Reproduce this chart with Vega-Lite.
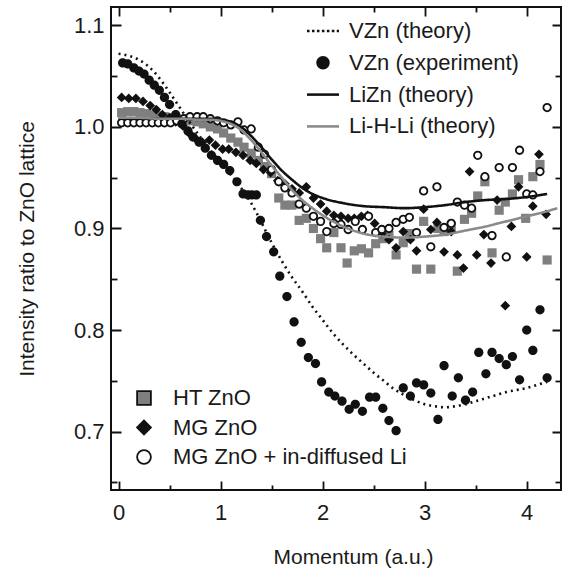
{
  "$schema": "https://vega.github.io/schema/vega-lite/v6.json",
  "width": 450,
  "height": 483,
  "autosize": {"type": "none"},
  "padding": {"left": 111, "top": 7, "right": 2, "bottom": 79},
  "background": "white",
  "config": {
    "font": "Liberation Sans",
    "view": {"stroke": "#111", "strokeWidth": 2},
    "axis": {
      "grid": false, "domain": false,
      "labelFont": "Liberation Sans", "labelFontSize": 22, "labelColor": "#1a1a1a",
      "titleFont": "Liberation Sans", "titleFontSize": 21, "titleFontWeight": "normal", "titleColor": "#1a1a1a",
      "tickColor": "#111", "tickWidth": 1.8, "labelOverlap": false, "labelFlush": false
    },
    "legend": {"labelFont": "Liberation Sans", "labelFontSize": 22, "labelColor": "#1a1a1a", "padding": 0, "labelLimit": 320}
  },
  "datasets": {
    "theory": [
      {"x": 0.0, "y": 1.072, "curve": "VZn (theory)"},
      {"x": 0.1, "y": 1.070, "curve": "VZn (theory)"},
      {"x": 0.2, "y": 1.066, "curve": "VZn (theory)"},
      {"x": 0.3, "y": 1.059, "curve": "VZn (theory)"},
      {"x": 0.4, "y": 1.048, "curve": "VZn (theory)"},
      {"x": 0.5, "y": 1.034, "curve": "VZn (theory)"},
      {"x": 0.6, "y": 1.019, "curve": "VZn (theory)"},
      {"x": 0.7, "y": 1.004, "curve": "VZn (theory)"},
      {"x": 0.8, "y": 0.990, "curve": "VZn (theory)"},
      {"x": 0.9, "y": 0.977, "curve": "VZn (theory)"},
      {"x": 1.0, "y": 0.965, "curve": "VZn (theory)"},
      {"x": 1.1, "y": 0.953, "curve": "VZn (theory)"},
      {"x": 1.2, "y": 0.940, "curve": "VZn (theory)"},
      {"x": 1.3, "y": 0.925, "curve": "VZn (theory)"},
      {"x": 1.4, "y": 0.906, "curve": "VZn (theory)"},
      {"x": 1.5, "y": 0.886, "curve": "VZn (theory)"},
      {"x": 1.6, "y": 0.868, "curve": "VZn (theory)"},
      {"x": 1.7, "y": 0.852, "curve": "VZn (theory)"},
      {"x": 1.8, "y": 0.838, "curve": "VZn (theory)"},
      {"x": 1.9, "y": 0.823, "curve": "VZn (theory)"},
      {"x": 2.0, "y": 0.810, "curve": "VZn (theory)"},
      {"x": 2.1, "y": 0.797, "curve": "VZn (theory)"},
      {"x": 2.2, "y": 0.786, "curve": "VZn (theory)"},
      {"x": 2.3, "y": 0.776, "curve": "VZn (theory)"},
      {"x": 2.4, "y": 0.767, "curve": "VZn (theory)"},
      {"x": 2.5, "y": 0.758, "curve": "VZn (theory)"},
      {"x": 2.6, "y": 0.750, "curve": "VZn (theory)"},
      {"x": 2.7, "y": 0.742, "curve": "VZn (theory)"},
      {"x": 2.8, "y": 0.736, "curve": "VZn (theory)"},
      {"x": 2.9, "y": 0.731, "curve": "VZn (theory)"},
      {"x": 3.0, "y": 0.727, "curve": "VZn (theory)"},
      {"x": 3.1, "y": 0.725, "curve": "VZn (theory)"},
      {"x": 3.2, "y": 0.724, "curve": "VZn (theory)"},
      {"x": 3.3, "y": 0.725, "curve": "VZn (theory)"},
      {"x": 3.4, "y": 0.727, "curve": "VZn (theory)"},
      {"x": 3.5, "y": 0.730, "curve": "VZn (theory)"},
      {"x": 3.6, "y": 0.733, "curve": "VZn (theory)"},
      {"x": 3.7, "y": 0.736, "curve": "VZn (theory)"},
      {"x": 3.8, "y": 0.739, "curve": "VZn (theory)"},
      {"x": 3.9, "y": 0.741, "curve": "VZn (theory)"},
      {"x": 4.0, "y": 0.743, "curve": "VZn (theory)"},
      {"x": 4.1, "y": 0.746, "curve": "VZn (theory)"},
      {"x": 4.2, "y": 0.749, "curve": "VZn (theory)"},
      {"x": 0.0, "y": 1.008, "curve": "LiZn (theory)"},
      {"x": 0.2, "y": 1.008, "curve": "LiZn (theory)"},
      {"x": 0.4, "y": 1.008, "curve": "LiZn (theory)"},
      {"x": 0.6, "y": 1.008, "curve": "LiZn (theory)"},
      {"x": 0.8, "y": 1.008, "curve": "LiZn (theory)"},
      {"x": 0.9, "y": 1.008, "curve": "LiZn (theory)"},
      {"x": 1.0, "y": 1.007, "curve": "LiZn (theory)"},
      {"x": 1.1, "y": 1.005, "curve": "LiZn (theory)"},
      {"x": 1.2, "y": 1.000, "curve": "LiZn (theory)"},
      {"x": 1.3, "y": 0.991, "curve": "LiZn (theory)"},
      {"x": 1.4, "y": 0.980, "curve": "LiZn (theory)"},
      {"x": 1.5, "y": 0.968, "curve": "LiZn (theory)"},
      {"x": 1.6, "y": 0.957, "curve": "LiZn (theory)"},
      {"x": 1.7, "y": 0.948, "curve": "LiZn (theory)"},
      {"x": 1.8, "y": 0.940, "curve": "LiZn (theory)"},
      {"x": 1.9, "y": 0.934, "curve": "LiZn (theory)"},
      {"x": 2.0, "y": 0.930, "curve": "LiZn (theory)"},
      {"x": 2.2, "y": 0.925, "curve": "LiZn (theory)"},
      {"x": 2.4, "y": 0.922, "curve": "LiZn (theory)"},
      {"x": 2.6, "y": 0.921, "curve": "LiZn (theory)"},
      {"x": 2.8, "y": 0.920, "curve": "LiZn (theory)"},
      {"x": 3.0, "y": 0.921, "curve": "LiZn (theory)"},
      {"x": 3.2, "y": 0.923, "curve": "LiZn (theory)"},
      {"x": 3.4, "y": 0.926, "curve": "LiZn (theory)"},
      {"x": 3.6, "y": 0.928, "curve": "LiZn (theory)"},
      {"x": 3.8, "y": 0.929, "curve": "LiZn (theory)"},
      {"x": 4.0, "y": 0.931, "curve": "LiZn (theory)"},
      {"x": 4.2, "y": 0.934, "curve": "LiZn (theory)"},
      {"x": 0.0, "y": 1.009, "curve": "Li-H-Li (theory)"},
      {"x": 0.2, "y": 1.009, "curve": "Li-H-Li (theory)"},
      {"x": 0.4, "y": 1.008, "curve": "Li-H-Li (theory)"},
      {"x": 0.6, "y": 1.008, "curve": "Li-H-Li (theory)"},
      {"x": 0.8, "y": 1.007, "curve": "Li-H-Li (theory)"},
      {"x": 0.9, "y": 1.007, "curve": "Li-H-Li (theory)"},
      {"x": 1.0, "y": 1.006, "curve": "Li-H-Li (theory)"},
      {"x": 1.1, "y": 1.003, "curve": "Li-H-Li (theory)"},
      {"x": 1.2, "y": 0.997, "curve": "Li-H-Li (theory)"},
      {"x": 1.3, "y": 0.987, "curve": "Li-H-Li (theory)"},
      {"x": 1.4, "y": 0.975, "curve": "Li-H-Li (theory)"},
      {"x": 1.5, "y": 0.962, "curve": "Li-H-Li (theory)"},
      {"x": 1.6, "y": 0.950, "curve": "Li-H-Li (theory)"},
      {"x": 1.7, "y": 0.938, "curve": "Li-H-Li (theory)"},
      {"x": 1.8, "y": 0.928, "curve": "Li-H-Li (theory)"},
      {"x": 1.9, "y": 0.920, "curve": "Li-H-Li (theory)"},
      {"x": 2.0, "y": 0.913, "curve": "Li-H-Li (theory)"},
      {"x": 2.1, "y": 0.907, "curve": "Li-H-Li (theory)"},
      {"x": 2.2, "y": 0.902, "curve": "Li-H-Li (theory)"},
      {"x": 2.3, "y": 0.898, "curve": "Li-H-Li (theory)"},
      {"x": 2.4, "y": 0.895, "curve": "Li-H-Li (theory)"},
      {"x": 2.5, "y": 0.893, "curve": "Li-H-Li (theory)"},
      {"x": 2.6, "y": 0.892, "curve": "Li-H-Li (theory)"},
      {"x": 2.8, "y": 0.891, "curve": "Li-H-Li (theory)"},
      {"x": 3.0, "y": 0.892, "curve": "Li-H-Li (theory)"},
      {"x": 3.2, "y": 0.894, "curve": "Li-H-Li (theory)"},
      {"x": 3.4, "y": 0.898, "curve": "Li-H-Li (theory)"},
      {"x": 3.6, "y": 0.902, "curve": "Li-H-Li (theory)"},
      {"x": 3.8, "y": 0.907, "curve": "Li-H-Li (theory)"},
      {"x": 4.0, "y": 0.912, "curve": "Li-H-Li (theory)"},
      {"x": 4.2, "y": 0.917, "curve": "Li-H-Li (theory)"},
      {"x": 4.3, "y": 0.920, "curve": "Li-H-Li (theory)"}
    ],
    "experiment": [
      {"x": 0.04, "y": 1.063, "series": "VZn (experiment)"}, {"x": 0.09, "y": 1.062, "series": "VZn (experiment)"},
      {"x": 0.15, "y": 1.058, "series": "VZn (experiment)"}, {"x": 0.20, "y": 1.055, "series": "VZn (experiment)"},
      {"x": 0.25, "y": 1.052, "series": "VZn (experiment)"}, {"x": 0.30, "y": 1.046, "series": "VZn (experiment)"},
      {"x": 0.35, "y": 1.041, "series": "VZn (experiment)"}, {"x": 0.40, "y": 1.036, "series": "VZn (experiment)"},
      {"x": 0.45, "y": 1.029, "series": "VZn (experiment)"}, {"x": 0.50, "y": 1.022, "series": "VZn (experiment)"},
      {"x": 0.56, "y": 1.012, "series": "VZn (experiment)"}, {"x": 0.62, "y": 1.003, "series": "VZn (experiment)"},
      {"x": 0.68, "y": 0.996, "series": "VZn (experiment)"}, {"x": 0.73, "y": 0.990, "series": "VZn (experiment)"},
      {"x": 0.79, "y": 0.985, "series": "VZn (experiment)"}, {"x": 0.85, "y": 0.979, "series": "VZn (experiment)"},
      {"x": 0.91, "y": 0.972, "series": "VZn (experiment)"}, {"x": 0.97, "y": 0.967, "series": "VZn (experiment)"},
      {"x": 1.03, "y": 0.963, "series": "VZn (experiment)"}, {"x": 1.09, "y": 0.957, "series": "VZn (experiment)"},
      {"x": 1.16, "y": 0.946, "series": "VZn (experiment)"}, {"x": 1.22, "y": 0.934, "series": "VZn (experiment)"},
      {"x": 1.27, "y": 0.933, "series": "VZn (experiment)"}, {"x": 1.31, "y": 0.933, "series": "VZn (experiment)"},
      {"x": 1.35, "y": 0.933, "series": "VZn (experiment)"}, {"x": 1.39, "y": 0.908, "series": "VZn (experiment)"},
      {"x": 1.45, "y": 0.892, "series": "VZn (experiment)"}, {"x": 1.52, "y": 0.877, "series": "VZn (experiment)"},
      {"x": 1.58, "y": 0.853, "series": "VZn (experiment)"}, {"x": 1.65, "y": 0.833, "series": "VZn (experiment)"},
      {"x": 1.72, "y": 0.808, "series": "VZn (experiment)"}, {"x": 1.79, "y": 0.788, "series": "VZn (experiment)"},
      {"x": 1.86, "y": 0.773, "series": "VZn (experiment)"}, {"x": 1.93, "y": 0.767, "series": "VZn (experiment)"},
      {"x": 1.99, "y": 0.749, "series": "VZn (experiment)"}, {"x": 2.06, "y": 0.739, "series": "VZn (experiment)"},
      {"x": 2.12, "y": 0.735, "series": "VZn (experiment)"}, {"x": 2.19, "y": 0.730, "series": "VZn (experiment)"},
      {"x": 2.26, "y": 0.722, "series": "VZn (experiment)"}, {"x": 2.32, "y": 0.727, "series": "VZn (experiment)"},
      {"x": 2.39, "y": 0.720, "series": "VZn (experiment)"}, {"x": 2.46, "y": 0.734, "series": "VZn (experiment)"},
      {"x": 2.52, "y": 0.734, "series": "VZn (experiment)"}, {"x": 2.59, "y": 0.723, "series": "VZn (experiment)"},
      {"x": 2.65, "y": 0.711, "series": "VZn (experiment)"}, {"x": 2.72, "y": 0.701, "series": "VZn (experiment)"},
      {"x": 2.79, "y": 0.743, "series": "VZn (experiment)"}, {"x": 2.86, "y": 0.735, "series": "VZn (experiment)"},
      {"x": 2.92, "y": 0.748, "series": "VZn (experiment)"}, {"x": 2.99, "y": 0.746, "series": "VZn (experiment)"},
      {"x": 3.06, "y": 0.738, "series": "VZn (experiment)"}, {"x": 3.13, "y": 0.712, "series": "VZn (experiment)"},
      {"x": 3.19, "y": 0.765, "series": "VZn (experiment)"}, {"x": 3.27, "y": 0.735, "series": "VZn (experiment)"},
      {"x": 3.33, "y": 0.753, "series": "VZn (experiment)"}, {"x": 3.40, "y": 0.731, "series": "VZn (experiment)"},
      {"x": 3.47, "y": 0.739, "series": "VZn (experiment)"}, {"x": 3.53, "y": 0.778, "series": "VZn (experiment)"},
      {"x": 3.60, "y": 0.757, "series": "VZn (experiment)"}, {"x": 3.66, "y": 0.778, "series": "VZn (experiment)"},
      {"x": 3.73, "y": 0.772, "series": "VZn (experiment)"}, {"x": 3.80, "y": 0.766, "series": "VZn (experiment)"},
      {"x": 3.86, "y": 0.774, "series": "VZn (experiment)"}, {"x": 3.93, "y": 0.751, "series": "VZn (experiment)"},
      {"x": 4.00, "y": 0.800, "series": "VZn (experiment)"}, {"x": 4.06, "y": 0.780, "series": "VZn (experiment)"},
      {"x": 4.13, "y": 0.820, "series": "VZn (experiment)"}, {"x": 4.20, "y": 0.753, "series": "VZn (experiment)"}
    ],
    "samples": [
      {"x": 0.03, "y": 1.014, "sample": "HT ZnO"}, {"x": 0.09, "y": 1.015, "sample": "HT ZnO"},
      {"x": 0.15, "y": 1.015, "sample": "HT ZnO"}, {"x": 0.21, "y": 1.014, "sample": "HT ZnO"},
      {"x": 0.27, "y": 1.013, "sample": "HT ZnO"}, {"x": 0.33, "y": 1.012, "sample": "HT ZnO"},
      {"x": 0.39, "y": 1.011, "sample": "HT ZnO"}, {"x": 0.45, "y": 1.010, "sample": "HT ZnO"},
      {"x": 0.51, "y": 1.009, "sample": "HT ZnO"}, {"x": 0.57, "y": 1.008, "sample": "HT ZnO"},
      {"x": 0.64, "y": 1.007, "sample": "HT ZnO"}, {"x": 0.70, "y": 1.006, "sample": "HT ZnO"},
      {"x": 0.77, "y": 1.005, "sample": "HT ZnO"}, {"x": 0.83, "y": 1.003, "sample": "HT ZnO"},
      {"x": 0.90, "y": 1.000, "sample": "HT ZnO"}, {"x": 0.97, "y": 0.998, "sample": "HT ZnO"},
      {"x": 1.03, "y": 0.994, "sample": "HT ZnO"}, {"x": 1.10, "y": 0.989, "sample": "HT ZnO"},
      {"x": 1.17, "y": 0.985, "sample": "HT ZnO"}, {"x": 1.23, "y": 0.980, "sample": "HT ZnO"},
      {"x": 1.30, "y": 0.974, "sample": "HT ZnO"}, {"x": 1.37, "y": 0.967, "sample": "HT ZnO"},
      {"x": 1.43, "y": 0.961, "sample": "HT ZnO"}, {"x": 1.50, "y": 0.954, "sample": "HT ZnO"},
      {"x": 1.57, "y": 0.930, "sample": "HT ZnO"}, {"x": 1.63, "y": 0.923, "sample": "HT ZnO"},
      {"x": 1.70, "y": 0.923, "sample": "HT ZnO"}, {"x": 1.77, "y": 0.908, "sample": "HT ZnO"},
      {"x": 1.84, "y": 0.910, "sample": "HT ZnO"}, {"x": 1.91, "y": 0.900, "sample": "HT ZnO"},
      {"x": 1.98, "y": 0.890, "sample": "HT ZnO"}, {"x": 2.04, "y": 0.881, "sample": "HT ZnO"},
      {"x": 2.11, "y": 0.896, "sample": "HT ZnO"}, {"x": 2.18, "y": 0.881, "sample": "HT ZnO"},
      {"x": 2.24, "y": 0.866, "sample": "HT ZnO"}, {"x": 2.31, "y": 0.878, "sample": "HT ZnO"},
      {"x": 2.38, "y": 0.880, "sample": "HT ZnO"}, {"x": 2.45, "y": 0.876, "sample": "HT ZnO"},
      {"x": 2.52, "y": 0.885, "sample": "HT ZnO"}, {"x": 2.59, "y": 0.890, "sample": "HT ZnO"},
      {"x": 2.65, "y": 0.893, "sample": "HT ZnO"}, {"x": 2.72, "y": 0.874, "sample": "HT ZnO"},
      {"x": 2.79, "y": 0.886, "sample": "HT ZnO"}, {"x": 2.85, "y": 0.895, "sample": "HT ZnO"},
      {"x": 2.92, "y": 0.860, "sample": "HT ZnO"}, {"x": 2.99, "y": 0.907, "sample": "HT ZnO"},
      {"x": 3.06, "y": 0.860, "sample": "HT ZnO"}, {"x": 3.13, "y": 0.900, "sample": "HT ZnO"},
      {"x": 3.19, "y": 0.897, "sample": "HT ZnO"}, {"x": 3.26, "y": 0.902, "sample": "HT ZnO"},
      {"x": 3.32, "y": 0.858, "sample": "HT ZnO"}, {"x": 3.39, "y": 0.909, "sample": "HT ZnO"},
      {"x": 3.46, "y": 0.915, "sample": "HT ZnO"}, {"x": 3.52, "y": 0.932, "sample": "HT ZnO"},
      {"x": 3.59, "y": 0.946, "sample": "HT ZnO"}, {"x": 3.66, "y": 0.876, "sample": "HT ZnO"},
      {"x": 3.73, "y": 0.918, "sample": "HT ZnO"}, {"x": 3.79, "y": 0.926, "sample": "HT ZnO"},
      {"x": 3.86, "y": 0.934, "sample": "HT ZnO"}, {"x": 3.92, "y": 0.948, "sample": "HT ZnO"},
      {"x": 3.99, "y": 0.910, "sample": "HT ZnO"}, {"x": 4.06, "y": 0.951, "sample": "HT ZnO"},
      {"x": 4.13, "y": 0.963, "sample": "HT ZnO"}, {"x": 4.20, "y": 0.869, "sample": "HT ZnO"},
      {"x": 0.03, "y": 1.029, "sample": "MG ZnO"}, {"x": 0.10, "y": 1.028, "sample": "MG ZnO"},
      {"x": 0.17, "y": 1.028, "sample": "MG ZnO"}, {"x": 0.24, "y": 1.025, "sample": "MG ZnO"},
      {"x": 0.31, "y": 1.021, "sample": "MG ZnO"}, {"x": 0.37, "y": 1.017, "sample": "MG ZnO"},
      {"x": 0.43, "y": 1.012, "sample": "MG ZnO"}, {"x": 0.50, "y": 1.009, "sample": "MG ZnO"},
      {"x": 0.56, "y": 1.005, "sample": "MG ZnO"}, {"x": 0.63, "y": 1.001, "sample": "MG ZnO"},
      {"x": 0.69, "y": 0.994, "sample": "MG ZnO"}, {"x": 0.76, "y": 0.988, "sample": "MG ZnO"},
      {"x": 0.82, "y": 0.985, "sample": "MG ZnO"}, {"x": 0.89, "y": 0.987, "sample": "MG ZnO"},
      {"x": 0.95, "y": 0.982, "sample": "MG ZnO"}, {"x": 1.02, "y": 0.978, "sample": "MG ZnO"},
      {"x": 1.08, "y": 0.978, "sample": "MG ZnO"}, {"x": 1.15, "y": 0.975, "sample": "MG ZnO"},
      {"x": 1.22, "y": 0.972, "sample": "MG ZnO"}, {"x": 1.29, "y": 0.967, "sample": "MG ZnO"},
      {"x": 1.35, "y": 0.964, "sample": "MG ZnO"}, {"x": 1.42, "y": 0.958, "sample": "MG ZnO"},
      {"x": 1.49, "y": 0.955, "sample": "MG ZnO"}, {"x": 1.56, "y": 0.947, "sample": "MG ZnO"},
      {"x": 1.63, "y": 0.944, "sample": "MG ZnO"}, {"x": 1.70, "y": 0.939, "sample": "MG ZnO"},
      {"x": 1.77, "y": 0.935, "sample": "MG ZnO"}, {"x": 1.84, "y": 0.941, "sample": "MG ZnO"},
      {"x": 1.91, "y": 0.930, "sample": "MG ZnO"}, {"x": 1.98, "y": 0.924, "sample": "MG ZnO"},
      {"x": 2.04, "y": 0.917, "sample": "MG ZnO"}, {"x": 2.11, "y": 0.913, "sample": "MG ZnO"},
      {"x": 2.18, "y": 0.912, "sample": "MG ZnO"}, {"x": 2.25, "y": 0.910, "sample": "MG ZnO"},
      {"x": 2.31, "y": 0.910, "sample": "MG ZnO"}, {"x": 2.38, "y": 0.912, "sample": "MG ZnO"},
      {"x": 2.44, "y": 0.913, "sample": "MG ZnO"}, {"x": 2.51, "y": 0.905, "sample": "MG ZnO"},
      {"x": 2.58, "y": 0.895, "sample": "MG ZnO"}, {"x": 2.65, "y": 0.889, "sample": "MG ZnO"},
      {"x": 2.72, "y": 0.881, "sample": "MG ZnO"}, {"x": 2.79, "y": 0.897, "sample": "MG ZnO"},
      {"x": 2.86, "y": 0.889, "sample": "MG ZnO"}, {"x": 2.92, "y": 0.878, "sample": "MG ZnO"},
      {"x": 2.99, "y": 0.919, "sample": "MG ZnO"}, {"x": 3.06, "y": 0.899, "sample": "MG ZnO"},
      {"x": 3.12, "y": 0.906, "sample": "MG ZnO"}, {"x": 3.19, "y": 0.877, "sample": "MG ZnO"},
      {"x": 3.26, "y": 0.897, "sample": "MG ZnO"}, {"x": 3.32, "y": 0.874, "sample": "MG ZnO"},
      {"x": 3.38, "y": 0.861, "sample": "MG ZnO"}, {"x": 3.44, "y": 0.956, "sample": "MG ZnO"},
      {"x": 3.51, "y": 0.874, "sample": "MG ZnO"}, {"x": 3.58, "y": 0.894, "sample": "MG ZnO"},
      {"x": 3.65, "y": 0.866, "sample": "MG ZnO"}, {"x": 3.71, "y": 0.928, "sample": "MG ZnO"},
      {"x": 3.79, "y": 0.824, "sample": "MG ZnO"}, {"x": 3.85, "y": 0.902, "sample": "MG ZnO"},
      {"x": 3.92, "y": 0.941, "sample": "MG ZnO"}, {"x": 4.00, "y": 0.872, "sample": "MG ZnO"},
      {"x": 4.06, "y": 0.922, "sample": "MG ZnO"}, {"x": 4.12, "y": 0.973, "sample": "MG ZnO"},
      {"x": 4.19, "y": 0.914, "sample": "MG ZnO"},
      {"x": 0.03, "y": 1.004, "sample": "MG ZnO + in-diffused Li"}, {"x": 0.09, "y": 1.004, "sample": "MG ZnO + in-diffused Li"},
      {"x": 0.15, "y": 1.004, "sample": "MG ZnO + in-diffused Li"}, {"x": 0.21, "y": 1.004, "sample": "MG ZnO + in-diffused Li"},
      {"x": 0.27, "y": 1.004, "sample": "MG ZnO + in-diffused Li"}, {"x": 0.33, "y": 1.004, "sample": "MG ZnO + in-diffused Li"},
      {"x": 0.39, "y": 1.004, "sample": "MG ZnO + in-diffused Li"}, {"x": 0.45, "y": 1.004, "sample": "MG ZnO + in-diffused Li"},
      {"x": 0.51, "y": 1.004, "sample": "MG ZnO + in-diffused Li"}, {"x": 0.57, "y": 1.006, "sample": "MG ZnO + in-diffused Li"},
      {"x": 0.64, "y": 1.008, "sample": "MG ZnO + in-diffused Li"}, {"x": 0.70, "y": 1.010, "sample": "MG ZnO + in-diffused Li"},
      {"x": 0.77, "y": 1.010, "sample": "MG ZnO + in-diffused Li"}, {"x": 0.83, "y": 1.010, "sample": "MG ZnO + in-diffused Li"},
      {"x": 0.90, "y": 1.008, "sample": "MG ZnO + in-diffused Li"}, {"x": 0.97, "y": 1.006, "sample": "MG ZnO + in-diffused Li"},
      {"x": 1.03, "y": 1.004, "sample": "MG ZnO + in-diffused Li"}, {"x": 1.10, "y": 1.002, "sample": "MG ZnO + in-diffused Li"},
      {"x": 1.17, "y": 1.005, "sample": "MG ZnO + in-diffused Li"}, {"x": 1.23, "y": 0.997, "sample": "MG ZnO + in-diffused Li"},
      {"x": 1.30, "y": 0.998, "sample": "MG ZnO + in-diffused Li"}, {"x": 1.37, "y": 0.980, "sample": "MG ZnO + in-diffused Li"},
      {"x": 1.43, "y": 0.973, "sample": "MG ZnO + in-diffused Li"}, {"x": 1.50, "y": 0.958, "sample": "MG ZnO + in-diffused Li"},
      {"x": 1.57, "y": 0.946, "sample": "MG ZnO + in-diffused Li"}, {"x": 1.63, "y": 0.940, "sample": "MG ZnO + in-diffused Li"},
      {"x": 1.70, "y": 0.935, "sample": "MG ZnO + in-diffused Li"}, {"x": 1.77, "y": 0.924, "sample": "MG ZnO + in-diffused Li"},
      {"x": 1.84, "y": 0.920, "sample": "MG ZnO + in-diffused Li"}, {"x": 1.91, "y": 0.912, "sample": "MG ZnO + in-diffused Li"},
      {"x": 1.98, "y": 0.907, "sample": "MG ZnO + in-diffused Li"}, {"x": 2.04, "y": 0.897, "sample": "MG ZnO + in-diffused Li"},
      {"x": 2.11, "y": 0.905, "sample": "MG ZnO + in-diffused Li"}, {"x": 2.18, "y": 0.904, "sample": "MG ZnO + in-diffused Li"},
      {"x": 2.25, "y": 0.899, "sample": "MG ZnO + in-diffused Li"}, {"x": 2.32, "y": 0.907, "sample": "MG ZnO + in-diffused Li"},
      {"x": 2.39, "y": 0.899, "sample": "MG ZnO + in-diffused Li"}, {"x": 2.45, "y": 0.912, "sample": "MG ZnO + in-diffused Li"},
      {"x": 2.52, "y": 0.896, "sample": "MG ZnO + in-diffused Li"}, {"x": 2.58, "y": 0.899, "sample": "MG ZnO + in-diffused Li"},
      {"x": 2.65, "y": 0.900, "sample": "MG ZnO + in-diffused Li"}, {"x": 2.72, "y": 0.906, "sample": "MG ZnO + in-diffused Li"},
      {"x": 2.79, "y": 0.909, "sample": "MG ZnO + in-diffused Li"}, {"x": 2.85, "y": 0.911, "sample": "MG ZnO + in-diffused Li"},
      {"x": 2.92, "y": 0.896, "sample": "MG ZnO + in-diffused Li"}, {"x": 2.99, "y": 0.937, "sample": "MG ZnO + in-diffused Li"},
      {"x": 3.06, "y": 0.882, "sample": "MG ZnO + in-diffused Li"}, {"x": 3.12, "y": 0.941, "sample": "MG ZnO + in-diffused Li"},
      {"x": 3.19, "y": 0.901, "sample": "MG ZnO + in-diffused Li"}, {"x": 3.26, "y": 0.905, "sample": "MG ZnO + in-diffused Li"},
      {"x": 3.32, "y": 0.926, "sample": "MG ZnO + in-diffused Li"}, {"x": 3.39, "y": 0.923, "sample": "MG ZnO + in-diffused Li"},
      {"x": 3.46, "y": 0.920, "sample": "MG ZnO + in-diffused Li"}, {"x": 3.52, "y": 0.972, "sample": "MG ZnO + in-diffused Li"},
      {"x": 3.59, "y": 0.951, "sample": "MG ZnO + in-diffused Li"}, {"x": 3.66, "y": 0.893, "sample": "MG ZnO + in-diffused Li"},
      {"x": 3.73, "y": 0.960, "sample": "MG ZnO + in-diffused Li"}, {"x": 3.80, "y": 0.872, "sample": "MG ZnO + in-diffused Li"},
      {"x": 3.86, "y": 0.960, "sample": "MG ZnO + in-diffused Li"}, {"x": 3.93, "y": 0.977, "sample": "MG ZnO + in-diffused Li"},
      {"x": 4.00, "y": 0.934, "sample": "MG ZnO + in-diffused Li"}, {"x": 4.06, "y": 0.933, "sample": "MG ZnO + in-diffused Li"},
      {"x": 4.13, "y": 0.956, "sample": "MG ZnO + in-diffused Li"}, {"x": 4.20, "y": 1.019, "sample": "MG ZnO + in-diffused Li"}
    ]
  },
  "layer": [
    {
      "data": {"name": "samples"},
      "mark": {"type": "point", "stroke": "#111111", "opacity": 1},
      "encoding": {
        "x": {
          "field": "x", "type": "quantitative",
          "scale": {"domain": [-0.074, 4.336], "nice": false, "zero": false},
          "axis": {
            "orient": "bottom",
            "values": [0, 0.5, 1, 1.5, 2, 2.5, 3, 3.5, 4],
            "labelExpr": "datum.value % 1 === 0 ? format(datum.value, 'd') : ''",
            "tickSize": -9,
            "tickDash": {"condition": {"test": "datum.value % 1 === 0", "value": [1, 0]}, "value": [5, 20]},
            "labelPadding": 21,
            "title": "Momentum (a.u.)",
            "titlePadding": 23,
            "titleX": 242
          }
        },
        "y": {
          "field": "y", "type": "quantitative",
          "scale": {"domain": [0.6426, 1.118], "nice": false, "zero": false},
          "axis": {
            "orient": "left",
            "values": [0.65, 0.7, 0.75, 0.8, 0.85, 0.9, 0.95, 1.0, 1.05, 1.1],
            "labelExpr": "round(datum.value * 100) % 10 === 0 ? format(datum.value, '.1f') : ''",
            "tickSize": -10,
            "tickDash": {"condition": {"test": "round(datum.value * 100) % 10 === 0", "value": [1, 0]}, "value": [6, 20]},
            "labelPadding": 17,
            "title": "Intensity ratio to ZnO lattice",
            "titlePadding": 36
          }
        },
        "shape": {
          "field": "sample", "type": "nominal",
          "scale": {"domain": ["HT ZnO", "MG ZnO", "MG ZnO + in-diffused Li"], "range": ["square", "diamond", "circle"]},
          "legend": {
            "orient": "none", "legendX": 22, "legendY": 380, "title": null,
            "symbolSize": 190, "symbolOffset": 0, "symbolStrokeWidth": 1.8,
            "labelOffset": 18, "rowPadding": 7.5
          }
        },
        "fill": {
          "field": "sample", "type": "nominal",
          "scale": {"domain": ["HT ZnO", "MG ZnO", "MG ZnO + in-diffused Li"], "range": ["#7f7f7f", "#111111", "#ffffff"]}
        },
        "strokeWidth": {
          "condition": {"test": "datum.sample === 'MG ZnO + in-diffused Li'", "value": 1.8},
          "value": 0
        },
        "size": {
          "condition": [
            {"test": "datum.sample === 'HT ZnO'", "value": 84},
            {"test": "datum.sample === 'MG ZnO'", "value": 95}
          ],
          "value": 56
        }
      }
    },
    {
      "data": {"name": "experiment"},
      "mark": {"type": "point", "filled": true, "size": 484, "opacity": 1, "strokeWidth": 0},
      "encoding": {
        "x": {"field": "x", "type": "quantitative", "axis": null},
        "y": {"field": "y", "type": "quantitative", "axis": null},
        "shape": {
          "field": "series", "type": "nominal",
          "scale": {
            "domain": ["VZn (theory)", "VZn (experiment)", "LiZn (theory)", "Li-H-Li (theory)"],
            "range": [
              "M-1,-0.08h0.16v0.16h-0.16z M-0.69,-0.08h0.16v0.16h-0.16z M-0.38,-0.08h0.16v0.16h-0.16z M-0.07,-0.08h0.16v0.16h-0.16z M0.24,-0.08h0.16v0.16h-0.16z M0.55,-0.08h0.16v0.16h-0.16z M0.86,-0.08h0.14v0.16h-0.14z",
              "M0.42,0 A0.42,0.42 0 1,1 -0.42,0 A0.42,0.42 0 1,1 0.42,0 Z",
              "M-1,-0.08 H1 V0.08 H-1 Z",
              "M-1,-0.08 H1 V0.08 H-1 Z"
            ]
          },
          "legend": {
            "orient": "none", "legendX": 196, "legendY": 8, "title": null,
            "symbolSize": 1024, "symbolStrokeWidth": 0, "symbolOffset": 0,
            "labelOffset": 10, "rowPadding": 4.8
          }
        },
        "fill": {
          "field": "series", "type": "nominal",
          "scale": {
            "domain": ["VZn (theory)", "VZn (experiment)", "LiZn (theory)", "Li-H-Li (theory)"],
            "range": ["#111111", "#111111", "#111111", "#8a8a8a"]
          }
        }
      }
    },
    {
      "data": {"name": "theory"},
      "mark": {"type": "line", "strokeWidth": 2.6, "interpolate": "monotone"},
      "encoding": {
        "x": {
          "field": "x", "type": "quantitative",
          "axis": {
            "orient": "top", "labels": false, "title": null,
            "values": [0, 0.5, 1, 1.5, 2, 2.5, 3, 3.5, 4],
            "tickSize": -9,
            "tickDash": {"condition": {"test": "datum.value % 1 === 0", "value": [1, 0]}, "value": [5, 20]}
          }
        },
        "y": {
          "field": "y", "type": "quantitative",
          "axis": {
            "orient": "right", "labels": false, "title": null,
            "values": [0.65, 0.7, 0.75, 0.8, 0.85, 0.9, 0.95, 1.0, 1.05, 1.1],
            "tickSize": -9,
            "tickDash": {"condition": {"test": "round(datum.value * 100) % 10 === 0", "value": [1, 0]}, "value": [6, 20]}
          }
        },
        "color": {
          "field": "curve", "type": "nominal",
          "scale": {
            "domain": ["VZn (theory)", "LiZn (theory)", "Li-H-Li (theory)"],
            "range": ["#111111", "#111111", "#8a8a8a"]
          },
          "legend": null
        },
        "strokeDash": {
          "field": "curve", "type": "nominal",
          "scale": {
            "domain": ["VZn (theory)", "LiZn (theory)", "Li-H-Li (theory)"],
            "range": [[2, 4], [1, 0], [1, 0]]
          },
          "legend": null
        }
      }
    }
  ],
  "resolve": {
    "axis": {"x": "independent", "y": "independent"},
    "scale": {"shape": "independent", "fill": "independent"}
  }
}
